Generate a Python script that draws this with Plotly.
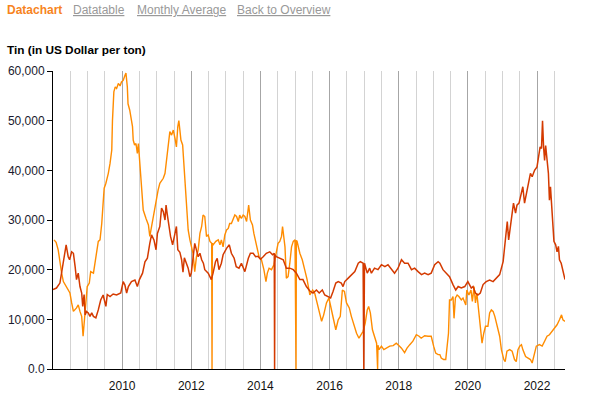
import plotly.graph_objects as go

# ---- data (decimal years, US$ per ton) ----
red_x = [2008.00, 2008.10, 2008.20, 2008.30, 2008.38, 2008.44, 2008.48, 2008.54, 2008.59, 2008.64,
         2008.68, 2008.73, 2008.78, 2008.83, 2008.86, 2008.90, 2008.93, 2008.97, 2009.02, 2009.07,
         2009.12, 2009.17, 2009.24, 2009.31, 2009.38, 2009.45, 2009.53, 2009.57, 2009.65, 2009.74,
         2009.84, 2009.96, 2010.03, 2010.08, 2010.13, 2010.18, 2010.27, 2010.37, 2010.44, 2010.50,
         2010.59, 2010.66, 2010.73, 2010.80, 2010.85, 2010.92, 2010.98, 2011.02, 2011.09, 2011.14,
         2011.19, 2011.24, 2011.27, 2011.30, 2011.36, 2011.40, 2011.46, 2011.53, 2011.57, 2011.61,
         2011.67, 2011.72, 2011.76, 2011.80, 2011.86, 2011.91, 2011.96, 2012.00, 2012.10, 2012.15,
         2012.20, 2012.25, 2012.30, 2012.35, 2012.39, 2012.49, 2012.58, 2012.63, 2012.70, 2012.75,
         2012.80, 2012.87, 2012.92, 2013.02, 2013.10, 2013.16, 2013.24, 2013.30, 2013.38, 2013.45,
         2013.55, 2013.65, 2013.71, 2013.79, 2013.86, 2013.93, 2014.00, 2014.08, 2014.17, 2014.27,
         2014.35, 2014.40, 2014.41, 2014.42, 2014.46, 2014.56, 2014.66, 2014.75, 2014.85, 2014.95,
         2015.04, 2015.14, 2015.23, 2015.33, 2015.43, 2015.52, 2015.62, 2015.70, 2015.79, 2015.86,
         2015.96, 2016.03, 2016.10, 2016.18, 2016.25, 2016.34, 2016.39, 2016.44, 2016.54, 2016.63,
         2016.73, 2016.83, 2016.89, 2016.97, 2016.99, 2017.01, 2017.09, 2017.16, 2017.21, 2017.30,
         2017.40, 2017.50, 2017.60, 2017.69, 2017.79, 2017.88, 2017.98, 2018.08, 2018.17, 2018.27,
         2018.37, 2018.46, 2018.56, 2018.66, 2018.75, 2018.85, 2018.94, 2019.04, 2019.14, 2019.19,
         2019.28, 2019.38, 2019.47, 2019.57, 2019.65, 2019.72, 2019.81, 2019.91, 2020.00, 2020.10,
         2020.15, 2020.22, 2020.29, 2020.36, 2020.44, 2020.53, 2020.63, 2020.73, 2020.82, 2020.92,
         2021.02, 2021.06, 2021.11, 2021.14, 2021.18, 2021.23, 2021.28, 2021.32, 2021.38, 2021.42,
         2021.48, 2021.55, 2021.59, 2021.64, 2021.69, 2021.74, 2021.81, 2021.86, 2021.93, 2022.00,
         2022.05, 2022.09, 2022.13, 2022.16, 2022.19, 2022.22, 2022.25, 2022.29, 2022.33, 2022.36,
         2022.39, 2022.42, 2022.46, 2022.49, 2022.54, 2022.58, 2022.62, 2022.65, 2022.70, 2022.75,
         2022.81]
red_y = [16000, 16300, 17300, 21300, 25000, 22600, 22000, 23600, 23300, 20600,
         18000, 19300, 16600, 15300, 12600, 15000, 10900, 11600, 11300, 10600,
         11300, 10600, 10300, 11900, 13900, 14900, 12600, 15000, 14600, 15100,
         14900, 15300, 17600, 16900, 15300, 16600, 17600, 17900, 16600, 18000,
         19300, 21600, 22300, 25300, 27000, 26000, 24000, 27300, 28700, 32400,
         31700, 30000, 33000, 31400, 28700, 26700, 25000, 27300, 28700, 24000,
         23500, 22000, 19500, 22400, 21300, 20300, 18600, 19300, 25300, 24000,
         22600, 23300, 22000, 21300, 20000, 19300, 18000, 19300, 21600, 22300,
         20000, 21300, 23000, 24300, 25000, 23300, 22300, 20600, 20300, 21300,
         19600, 22300, 23300, 23300, 22600, 22700, 22100, 22600, 23300, 23600,
         23000, 23300, 0, 23000, 22600, 22300, 22000, 20300, 20300, 20000,
         19300, 18000, 18000, 16600, 15700, 15300, 15900, 15300, 15900, 14900,
         14600, 14300, 15600, 17300, 17600, 17300, 16600, 17600, 18300, 19000,
         19600, 21300, 21600, 21300, 0, 21300, 19300, 20300, 19300, 20300,
         20000, 21000, 20600, 21000, 20000, 19300, 20300, 22000, 21300, 21300,
         20000, 20300, 19600, 19000, 19300, 19000, 19300, 21000, 21600, 21300,
         20000, 19300, 18600, 17000, 15900, 16600, 16300, 16600, 17600, 16300,
         16600, 15300, 14900, 15300, 17000, 17600, 17900, 17600, 18300, 19000,
         21600, 24000, 28000, 29700, 26000, 28300, 30700, 33400, 31400, 33000,
         33400, 35700, 36700, 33400, 35400, 37000, 39400, 38700, 40000, 40700,
         43400, 44700, 44400, 50000, 44700, 42000, 45000, 42000, 39400, 34000,
         36700, 33400, 28700, 25700, 25000, 23600, 24700, 22000, 21300, 20000,
         18000]

orange_x = [2008.03, 2008.09, 2008.15, 2008.20, 2008.25, 2008.30, 2008.40, 2008.49, 2008.54, 2008.59,
            2008.68, 2008.73, 2008.78, 2008.83, 2008.87, 2008.90, 2008.95, 2008.99, 2009.05, 2009.09,
            2009.17, 2009.21, 2009.26, 2009.31, 2009.36, 2009.41, 2009.45, 2009.48, 2009.53, 2009.57,
            2009.60, 2009.65, 2009.70, 2009.72, 2009.76, 2009.80, 2009.84, 2009.89, 2009.94, 2009.98,
            2010.03, 2010.08, 2010.11, 2010.15, 2010.17, 2010.22, 2010.26, 2010.30, 2010.32, 2010.36,
            2010.40, 2010.44, 2010.47, 2010.50, 2010.53, 2010.57, 2010.61, 2010.69, 2010.76, 2010.80,
            2010.85, 2010.90, 2010.95, 2011.00, 2011.04, 2011.09, 2011.14, 2011.19, 2011.24, 2011.28,
            2011.33, 2011.38, 2011.43, 2011.48, 2011.53, 2011.57, 2011.61, 2011.64, 2011.67, 2011.70,
            2011.75, 2011.79, 2011.82, 2011.86, 2011.91, 2011.96, 2012.00, 2012.05, 2012.10, 2012.15,
            2012.20, 2012.25, 2012.30, 2012.34, 2012.39, 2012.44, 2012.49, 2012.54, 2012.59, 2012.60,
            2012.61, 2012.63, 2012.71, 2012.78, 2012.83, 2012.87, 2012.92, 2012.97, 2013.02, 2013.07,
            2013.11, 2013.16, 2013.21, 2013.26, 2013.31, 2013.36, 2013.40, 2013.45, 2013.50, 2013.55,
            2013.60, 2013.66, 2013.71, 2013.77, 2013.81, 2013.87, 2013.91, 2013.96, 2014.03, 2014.10,
            2014.16, 2014.20, 2014.25, 2014.32, 2014.39, 2014.45, 2014.51, 2014.56, 2014.61, 2014.64,
            2014.68, 2014.71, 2014.75, 2014.80, 2014.85, 2014.90, 2014.95, 2015.00, 2015.03, 2015.04,
            2015.06, 2015.14, 2015.21, 2015.28, 2015.35, 2015.43, 2015.51, 2015.57, 2015.62, 2015.70,
            2015.77, 2015.83, 2015.91, 2015.98, 2016.05, 2016.12, 2016.18, 2016.25, 2016.31, 2016.37,
            2016.43, 2016.49, 2016.57, 2016.63, 2016.70, 2016.78, 2016.85, 2016.92, 2016.97, 2017.03,
            2017.09, 2017.13, 2017.18, 2017.24, 2017.31, 2017.36, 2017.39, 2017.40, 2017.43, 2017.50,
            2017.57, 2017.65, 2017.74, 2017.84, 2017.93, 2018.01, 2018.08, 2018.17, 2018.24, 2018.32,
            2018.41, 2018.51, 2018.59, 2018.65, 2018.75, 2018.85, 2018.94, 2019.01, 2019.07, 2019.14,
            2019.19, 2019.23, 2019.30, 2019.36, 2019.40, 2019.44, 2019.47, 2019.52, 2019.57, 2019.60,
            2019.64, 2019.69, 2019.74, 2019.81, 2019.86, 2019.94, 2019.97, 2020.03, 2020.09, 2020.13,
            2020.18, 2020.22, 2020.26, 2020.32, 2020.36, 2020.41, 2020.46, 2020.51, 2020.58, 2020.63,
            2020.68, 2020.73, 2020.78, 2020.84, 2020.92, 2020.97, 2021.04, 2021.08, 2021.13, 2021.21,
            2021.28, 2021.35, 2021.40, 2021.45, 2021.50, 2021.55, 2021.59, 2021.67, 2021.74, 2021.81,
            2021.86, 2021.93, 2021.98, 2022.07, 2022.15, 2022.22, 2022.29, 2022.36, 2022.43, 2022.51,
            2022.58, 2022.65, 2022.71, 2022.75, 2022.81]
orange_y = [26000, 25500, 24000, 21300, 19300, 17600, 16300, 15300, 13300, 11600,
            12300, 12900, 11600, 10600, 6600, 9200, 12600, 16600, 17300, 19600,
            19300, 21300, 23300, 25700, 26000, 29300, 33400, 36400, 37400, 38400,
            39400, 41400, 44100, 50000, 55800, 56800, 56500, 57500, 57000, 57800,
            58100, 59100, 59600, 56800, 53400, 52100, 50800, 48800, 46100, 45100,
            45400, 43400, 45400, 42700, 38700, 34700, 32000, 30300, 29000, 26700,
            28700, 30700, 32700, 34000, 36000, 37400, 38000, 38400, 39400, 42000,
            45400, 47800, 47100, 48100, 46400, 44700, 48800, 50000, 48100, 46100,
            45100, 40700, 36000, 32700, 28000, 26000, 25000, 23300, 19600, 22600,
            24000, 27300, 28700, 31000, 30700, 26700, 27000, 25700, 25300, 0,
            25300, 25000, 25700, 26000, 25000, 26000, 24600, 27000, 28000, 28300,
            29300, 29300, 30000, 31000, 30700, 29700, 31000, 30300, 31000, 30700,
            29700, 33000, 30000, 29000, 27300, 25300, 23600, 22600, 22000, 20000,
            17600, 19300, 20300, 20000, 21000, 23300, 25300, 25700, 26700, 28700,
            26700, 24600, 18300, 18600, 21300, 24600, 25700, 26000, 0, 25900,
            25700, 23300, 22000, 20000, 18000, 14900, 15900, 15300, 13900, 11300,
            9600, 10900, 13300, 14300, 11900, 9200, 7900, 9900, 10600, 15900,
            15600, 13300, 12300, 10600, 8900, 7200, 6200, 6900, 7600, 9200,
            11900, 12600, 11300, 7900, 6200, 5200, 0, 4800, 3900, 4600,
            3900, 4200, 4600, 4700, 5200, 4700, 4200, 3300, 4200, 4900,
            5600, 6900, 6600, 6200, 6700, 6600, 6600, 4600, 3200, 2900,
            2900, 2200, 1900, 1900, 4600, 7200, 13900, 13900, 14600, 10200,
            14300, 14900, 14600, 13900, 14300, 12900, 15900, 14900, 15900, 13600,
            16600, 13300, 15300, 11300, 8600, 5200, 7200, 8600, 8600, 11300,
            11900, 11600, 10600, 8600, 6600, 3900, 1900, 1500, 3600, 3900,
            3600, 1900, 1500, 3900, 4600, 4900, 3900, 2500, 2200, 1900,
            1200, 3200, 4600, 4900, 4600, 5600, 6600, 6900, 7600, 8200,
            8900, 9900, 10900, 9900, 9600]

y_tick_vals = [0, 10000, 20000, 30000, 40000, 50000, 60000]
y_tick_text = ["0.0", "10,000", "20,000", "30,000", "40,000", "50,000", "60,000"]
x_tick_vals = [2010, 2012, 2014, 2016, 2018, 2020, 2022]
x_tick_text = ["2010", "2012", "2014", "2016", "2018", "2020", "2022"]

FONT = "Liberation Sans"
L, R, T, B = 53, 25, 71, 30
W, H = 590, 399

fig = go.Figure()
fig.add_trace(go.Scatter(x=orange_x, y=orange_y, mode="lines",
                         line=dict(color="#ff8c00", width=1.4), hoverinfo="skip"))
fig.add_trace(go.Scatter(x=red_x, y=red_y, mode="lines",
                         line=dict(color="#d43a00", width=1.5), hoverinfo="skip"))

fig.update_layout(
    width=W, height=H,
    margin=dict(l=L, r=R, t=T, b=B, autoexpand=False),
    paper_bgcolor="white", plot_bgcolor="white",
    showlegend=False,
    font=dict(family=FONT, size=12, color="#111"),
    xaxis=dict(
        range=[red_x[0], red_x[-1]], automargin=False,
        tickmode="array", tickvals=x_tick_vals, ticktext=x_tick_text,
        showgrid=True, gridcolor="#a6a6a6", gridwidth=1,
        minor=dict(dtick=0.5, tick0=2008, showgrid=True, gridcolor="#d3d3d3", gridwidth=1),
        showline=True, linecolor="black", linewidth=1,
        ticks="", ticklabelstandoff=6, zeroline=False,
        tickfont=dict(family=FONT, size=12, color="#111"),
    ),
    yaxis=dict(
        range=[0, 60000], automargin=False,
        tickmode="array", tickvals=y_tick_vals, ticktext=y_tick_text,
        showgrid=False, zeroline=False,
        showline=True, linecolor="black", linewidth=1,
        ticks="outside", ticklen=5, tickcolor="black",
        tickfont=dict(family=FONT, size=12, color="#1a1a2e"),
    ),
)

PW = W - L - R
PH = H - T - B

def px_x(px):
    return (px - L) / PW

def px_y(py):
    return (H - B - py) / PH

header = [("Datachart", 5, "#f7841e", False),
          ("Datatable", 71, "#999999", True),
          ("Monthly Average", 135, "#999999", True),
          ("Back to Overview", 235, "#999999", True)]
for txt, px, col, ul in header:
    t = f'<span style="text-decoration:underline">{txt}</span>' if ul else f"<b>{txt}</b>"
    fig.add_annotation(text=t, xref="paper", yref="paper", x=px_x(px), y=px_y(10),
                       xanchor="left", yanchor="middle", showarrow=False,
                       font=dict(family=FONT, size=12, color=col))

fig.add_annotation(text="<b>Tin (in US Dollar per ton)</b>", xref="paper", yref="paper",
                   x=px_x(5), y=px_y(50), xanchor="left", yanchor="middle", showarrow=False,
                   font=dict(family=FONT, size=11.8, color="#000"))

fig.write_html("out.html", config={"displayModeBar": False},
               post_script="document.body.style.margin='0';document.body.style.overflow='hidden';")
